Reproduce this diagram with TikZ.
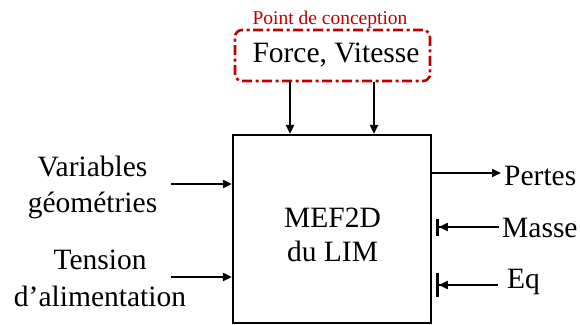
\documentclass[tikz,border=0pt]{standalone}
\usepackage{fontspec}
\setmainfont{Liberation Serif}
\usetikzlibrary{arrows.meta}
\definecolor{dred}{RGB}{192,0,0}
\begin{document}
\begin{tikzpicture}[x=1pt,y=-1pt,
  lbl/.style={font=\fontsize{29.5}{36}\selectfont, inner sep=0pt, align=center},
  arr/.style={line width=1.9pt, -{Triangle[length=9pt,width=8pt]}},
  stoparr/.style={line width=1.9pt, -{Triangle[length=9pt,width=8pt]Bar[width=#1,line width=2.8pt]}},
]
\useasboundingbox (0,0) rectangle (580,324);
% main block
\node[draw, line width=2.2pt, minimum width=198pt, minimum height=188pt, inner sep=0pt] (box) at (332,229) {};
\node[lbl, font=\fontsize{29.5}{34}\selectfont] (mef) at (332.5,234.5) {MEF2D\\du LIM};
% design point
\node[inner sep=0pt, text=dred, font=\fontsize{19.5}{22}\selectfont] (pclbl) at (330,19.5) {Point de conception};
\node[draw=dred, line width=2.6pt, rounded corners=7pt, dash pattern=on 10pt off 3.5pt on 3pt off 3.5pt,
      minimum width=195pt, minimum height=51pt, inner sep=0pt] (pc) at (332.5,55.5) {};
\node[lbl] (fv) at (336,55) {Force, Vitesse};
\coordinate (d1) at (290,0);
\coordinate (d2) at (374,0);
\draw[arr] (d1 |- pc.south) -- (d1 |- box.north);
\draw[arr] (d2 |- pc.south) -- (d2 |- box.north);
% inputs left
\node[lbl] (vg) at (92.5,187.5) {Variables\\géométries};
\node[lbl, font=\fontsize{29.5}{37}\selectfont] (ta) at (100,278) {Tension\\d’alimentation};
\coordinate (vgo) at (171,184);
\coordinate (tao) at (171,277);
\draw[arr] (vgo) -- (vgo -| box.west);
\draw[arr] (tao) -- (tao -| box.west);
% right side
\node[lbl, anchor=base west] (pertes) at (504,185) {Pertes};
\node[lbl, anchor=base west] (masse) at (502,237) {Masse};
\node[lbl, anchor=base west] (eq) at (507,288) {Eq};
\coordinate (pe) at (501,173);
\draw[arr] (pe -| box.east) -- (pe);
\coordinate (ms) at (499,227);
\coordinate (mb) at (436,227);
\draw[stoparr=17pt] (ms) -- (mb);
\coordinate (es) at (498,285);
\coordinate (eb) at (436,285);
\draw[stoparr=24pt] (es) -- (eb);
\end{tikzpicture}
\end{document}
